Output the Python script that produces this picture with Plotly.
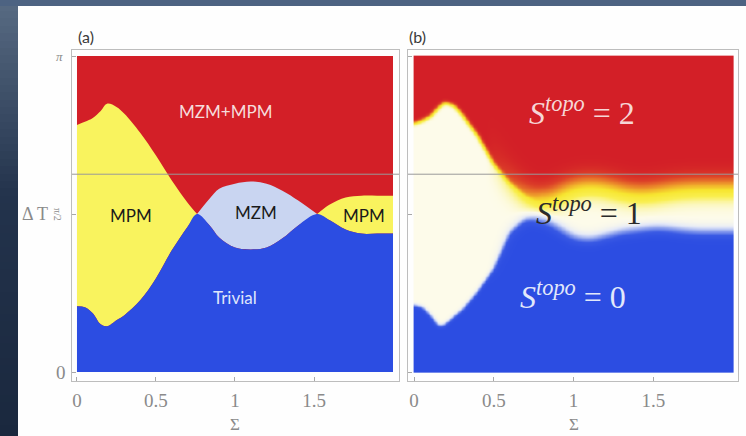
import numpy as np
import plotly.graph_objects as go

# ---------------------------------------------------------------------------
# Phase-boundary data (Sigma on x, Delta T / pi on y)
# ---------------------------------------------------------------------------
SIGMA = [0, 0.05, 0.1, 0.15, 0.19, 0.25, 0.3, 0.4, 0.5, 0.6, 0.7, 0.76,
         0.84, 0.9, 1.0, 1.1, 1.2, 1.3, 1.4, 1.52, 1.6, 1.7, 1.8, 1.9, 2.0]

# panel (a): lower edge of the MZM+MPM phase
A_RED_PI = [0.782, 0.792, 0.804, 0.826, 0.849, 0.839, 0.817, 0.757, 0.685,
            0.606, 0.536, 0.500, 0.549, 0.580, 0.596, 0.603, 0.596, 0.574,
            0.543, 0.500, 0.530, 0.552, 0.558, 0.558, 0.558]
# panel (a): upper edge of the trivial phase
B_BLUE_PI = [0.208, 0.205, 0.186, 0.151, 0.145, 0.164, 0.180, 0.227, 0.297,
             0.385, 0.460, 0.500, 0.464, 0.426, 0.394, 0.388, 0.394, 0.423,
             0.464, 0.500, 0.480, 0.451, 0.438, 0.438, 0.438]
# indices where the two boundaries touch (MPM | MZM | MPM)
PINCH_IDX = [11, 19]

# panel (b): S_topo 2 -> 1 and 1 -> 0 boundaries
A2_PI = [0.789, 0.798, 0.811, 0.839, 0.855, 0.845, 0.817, 0.748, 0.659,
         0.599, 0.558, 0.546, 0.543, 0.565, 0.590, 0.596, 0.590, 0.574,
         0.565, 0.571, 0.580, 0.584, 0.584, 0.584, 0.584]
B2_PI = [0.211, 0.205, 0.180, 0.145, 0.148, 0.177, 0.196, 0.256, 0.328,
         0.442, 0.486, 0.486, 0.473, 0.454, 0.423, 0.416, 0.429, 0.442,
         0.448, 0.454, 0.451, 0.445, 0.442, 0.442, 0.442]

REF_LINE_PI = 0.626
X_TICKS = [0, 0.5, 1, 1.5]
X_TICK_TEXT = ["0", "0.5", "1", "1.5"]
Y_TICKS_PI = [0, 0.5, 1]

RED = "#d31f27"
YELLOW = "#f9f35e"
LAVENDER = "#c9d5f1"
BLUE = "#2c4de2"

PI = np.pi
sig = np.array(SIGMA)
a_red = np.array(A_RED_PI) * PI
b_blue = np.array(B_BLUE_PI) * PI

fig = go.Figure()

# ---------------------------------------------------------------- panel (a)
fig.add_trace(go.Scatter(x=[0, 2], y=[PI, PI], mode="lines", fill="tozeroy",
                         fillcolor=RED, line=dict(width=0), hoverinfo="skip",
                         xaxis="x", yaxis="y"))
bounds = [0] + PINCH_IDX + [len(SIGMA) - 1]
seg_colors = [YELLOW, LAVENDER, YELLOW]
for (i0, i1), col in zip(zip(bounds[:-1], bounds[1:]), seg_colors):
    fig.add_trace(go.Scatter(x=sig[i0:i1 + 1], y=a_red[i0:i1 + 1], mode="lines",
                             line=dict(width=0, shape="spline"), hoverinfo="skip",
                             xaxis="x", yaxis="y"))
    fig.add_trace(go.Scatter(x=sig[i0:i1 + 1], y=b_blue[i0:i1 + 1], mode="lines",
                             fill="tonexty", fillcolor=col,
                             line=dict(width=0, shape="spline"), hoverinfo="skip",
                             xaxis="x", yaxis="y"))
fig.add_trace(go.Scatter(x=sig, y=b_blue, mode="lines", fill="tozeroy",
                         fillcolor=BLUE, line=dict(width=0, shape="spline"),
                         hoverinfo="skip", xaxis="x", yaxis="y"))

# ---------------------------------------------------------------- panel (b)
nx, ny = 400, 400
gx = np.linspace(0, 2, nx)
gy = np.linspace(0, PI, ny)
a2 = np.interp(gx, sig, np.array(A2_PI) * PI)
b2 = np.interp(gx, sig, np.array(B2_PI) * PI)
upper = (gy[:, None] > a2[None, :]).astype(float)
lower = (gy[:, None] > b2[None, :]).astype(float)


def gblur(img, sigma):
    r = int(3 * sigma) + 1
    k = np.exp(-0.5 * (np.arange(-r, r + 1) / sigma) ** 2)
    k /= k.sum()
    out = img
    for axis in (0, 1):
        pad = [(0, 0), (0, 0)]
        pad[axis] = (r, r)
        p = np.pad(out, pad, mode="edge")
        out = np.apply_along_axis(lambda v: np.convolve(v, k, mode="valid"), axis, p)
    return out


# transitions are crisp for small Sigma and smear out for larger Sigma
w = np.clip((gx - 0.45) / 0.35, 0, 1)[None, :]
upper_s = gblur(upper, 2.5) * (1 - w) + gblur(upper, 14.0) * w
lower_s = gblur(lower, 2.5) * (1 - w) + gblur(lower, 7.0) * w
s_img = upper_s + lower_s

topo_scale = [
    [0.0, BLUE], [0.15, "#3a5ae4"], [0.3, "#8ea2ee"], [0.42, "#e4e9f8"],
    [0.5, "#fdfbea"], [0.54, "#fbf6b0"], [0.6, "#f9ef50"], [0.7, "#f7e630"],
    [0.78, "#f2b52c"], [0.86, "#e8782a"], [0.93, "#dc3f28"], [1.0, RED],
]
fig.add_trace(go.Heatmap(x=gx, y=gy, z=s_img, zmin=0, zmax=2,
                         colorscale=topo_scale, showscale=False,
                         zsmooth="best", hoverinfo="skip",
                         xaxis="x2", yaxis="y2"))

# ------------------------------------------------------- dark side banner
band = np.linspace(0, 1, 60)
fig.add_trace(go.Heatmap(x=[0], y=band, z=[[v] for v in band], showscale=False,
                         colorscale=[[0, "#1a283e"], [0.55, "#23334c"], [1, "#586b83"]],
                         hoverinfo="skip", xaxis="x3", yaxis="y3"))

# ---------------------------------------------------------------- layout
W, H = 746, 436
Y_RANGE = [-0.0895, PI + 0.06]
y_dom = [1 - 381 / H, 1 - 50 / H]
frame = dict(showline=True, mirror=True, linecolor="#bdbdbd", linewidth=1,
             showgrid=False, zeroline=False, ticks="inside", ticklen=4,
             tickcolor="#a8a8a8", fixedrange=True)
tick_font = dict(family="Liberation Serif", size=19, color="#8a8a8a")

fig.update_layout(
    width=W, height=H, margin=dict(l=0, r=0, t=0, b=0),
    paper_bgcolor="#fefefe", plot_bgcolor="#fefefe", showlegend=False,
    xaxis=dict(domain=[72 / W, 399 / W], range=[-0.0316, 2.038], anchor="y",
               tickvals=X_TICKS, ticktext=X_TICK_TEXT, tickfont=tick_font,
               ticklabelstandoff=2, **frame),
    yaxis=dict(domain=y_dom, range=Y_RANGE, anchor="x",
               tickvals=[v * PI for v in Y_TICKS_PI], showticklabels=False, **frame),
    xaxis2=dict(domain=[408 / W, 738 / W], range=[-0.0376, 2.031], anchor="y2",
                tickvals=X_TICKS, ticktext=X_TICK_TEXT, tickfont=tick_font,
                ticklabelstandoff=2, **frame),
    yaxis2=dict(domain=y_dom, range=Y_RANGE, anchor="x2",
                tickvals=[v * PI for v in Y_TICKS_PI], showticklabels=False, **frame),
    xaxis3=dict(domain=[0, 18 / W], range=[-0.5, 0.5], visible=False, fixedrange=True),
    yaxis3=dict(domain=[0, 1], range=[0, 1], visible=False, anchor="x3", fixedrange=True),
)

# reference line across both panels
for xr, yr in (("x domain", "y"), ("x2 domain", "y2")):
    fig.add_shape(type="line", xref=xr, yref=yr, x0=0, x1=1,
                  y0=REF_LINE_PI * PI, y1=REF_LINE_PI * PI,
                  line=dict(color="#9a9a9a", width=1))

# top banner
fig.add_shape(type="rect", xref="paper", yref="paper", x0=0, x1=1,
              y0=1 - 6 / H, y1=1, fillcolor="#4d6382", line=dict(width=0))

ann = []


def label(text, x, y, xref, yref, font, **kw):
    ann.append(dict(text=text, x=x, y=y, xref=xref, yref=yref, showarrow=False,
                    xanchor="center", yanchor="middle", font=font, **kw))


# panel tags
tag_font = dict(family="Lato", size=16, color="#3a3a3a")
label("(a)", 86 / W, 1 - 37 / H, "paper", "paper", tag_font)
label("(b)", 417 / W, 1 - 37 / H, "paper", "paper", tag_font)

# y tick labels and axis label
serif_gray = "#8a8a8a"
label("<i>π</i>", 59 / W, PI, "paper", "y",
      dict(family="Liberation Serif", size=13, color=serif_gray))
label("π/2", 58 / W, PI / 2, "paper", "y",
      dict(family="Liberation Serif", size=10, color=serif_gray), textangle=90)
label("0", 61 / W, 0, "paper", "y",
      dict(family="Liberation Serif", size=19, color=serif_gray))
label("Δ T", 35 / W, PI / 2, "paper", "y",
      dict(family="Liberation Serif", size=18, color=serif_gray))

# x axis titles
for xr in ("x", "x2"):
    label("Σ", 1.0, 1 - 424 / H, xr, "paper",
          dict(family="Liberation Serif", size=17, color=serif_gray))

# phase names, panel (a)
phase_labels = [
    ("MZM+MPM", 0.937, 2.594, "#f6dcdc"),
    ("MPM", 0.342, 1.561, "#1a1a1a"),
    ("MZM", 1.133, 1.590, "#1a1a1a"),
    ("MPM", 1.816, 1.561, "#1a1a1a"),
    ("Trivial", 1.0, 0.736, "#dfe5fb"),
]
for txt, xv, yv, col in phase_labels:
    label(txt, xv, yv, "x", "y", dict(family="Lato", size=17, color=col))

# topological index, panel (b)
topo_labels = [
    ("2", 1.053, 2.60, "#f6d6d6"),
    ("1", 1.097, 1.60, "#2a2a2a"),
    ("0", 0.997, 0.77, "#e2e8fb"),
]
for val, xv, yv, col in topo_labels:
    label(f"<i>S</i><sup><i>topo</i></sup> = {val}", xv, yv, "x2", "y2",
          dict(family="Liberation Serif", size=32, color=col))

fig.update_layout(annotations=ann)
fig.write_html("out.html")
